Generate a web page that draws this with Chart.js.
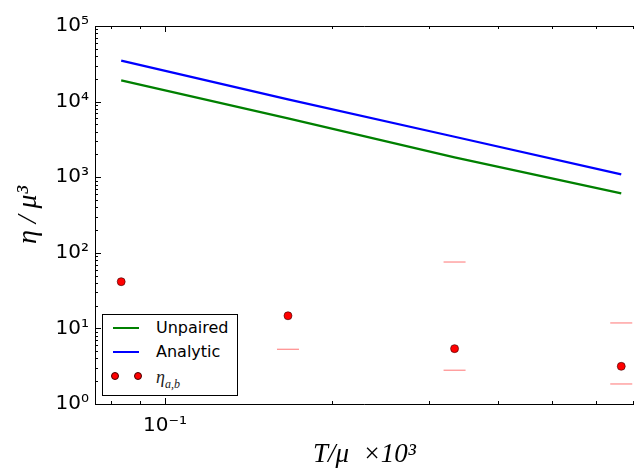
<!DOCTYPE html>
<html>
<head>
<meta charset="utf-8">
<script src="https://cdn.jsdelivr.net/npm/chart.js@4.4.0/dist/chart.umd.min.js"></script>
<style>
  html, body { margin: 0; padding: 0; background: #fff; overflow: hidden; }
  #wrap { position: relative; width: 634px; height: 473px; }
  #legend {
    position: absolute; left: 102px; top: 314px; width: 136px; height: 82px;
    box-sizing: border-box; border: 1px solid #000; background: #fff;
    font-family: "DejaVu Sans", sans-serif; font-size: 16px; color: #000;
  }
  .row { position: absolute; left: 0; height: 20px; width: 100%; }
  .swatch { position: absolute; left: 10px; width: 26px; height: 2px; top: 9px; }
  .dot { position: absolute; top: 5px; width: 8px; height: 8px; border-radius: 50%;
         background: #f00; border: 0.6px solid #400; box-sizing: border-box; }
  .lbl { position: absolute; left: 53px; top: 0; line-height: 20px; white-space: nowrap; }
  .math { font-family: "Liberation Serif", serif; font-style: italic; font-size: 18px; color: #222; }
  .math sub { font-size: 12px; }
</style>
</head>
<body>
<div id="wrap">
  <canvas id="c" width="634" height="473"></canvas>
  <div id="legend">
    <div class="row" style="top:3px"><div class="swatch" style="background:#008000"></div><span class="lbl">Unpaired</span></div>
    <div class="row" style="top:27px"><div class="swatch" style="background:#0000ff"></div><span class="lbl">Analytic</span></div>
    <div class="row" style="top:52px"><div class="dot" style="left:8px"></div><div class="dot" style="left:31px"></div><span class="lbl math">η<sub>a,b</sub></span></div>
  </div>
</div>
<script>
// temperatures (x) and the series
const temps = [0.0833, 0.1667, 0.3333, 0.6667];
const unpaired = [19100, 6010, 1830, 612];
const analytic = [34800, 10700, 3430, 1090];
const etaAB = [41.5, 14.7, 5.4, 3.15];
const etaUpper = [null, null, 75.5, 11.8];
const etaLower = [null, 5.3, 2.8, 1.84];

const yTicks = [1, 10, 100, 1000, 10000, 100000];
const xTicks = [0.1];

const sup = { '-': '⁻', '0': '⁰', '1': '¹', '2': '²', '3': '³', '4': '⁴', '5': '⁵', '6': '⁶', '7': '⁷', '8': '⁸', '9': '⁹' };
function pow10Label(v) {
  const e = String(Math.round(Math.log10(v)));
  return '10' + e.split('').map(ch => sup[ch]).join('');
}
function pts(ys) {
  return temps.map((t, i) => ({ x: t, y: ys[i] }));
}

// inside tick marks and the frame, matplotlib style
const frame = {
  id: 'frame',
  afterDatasetsDraw(chart) {
    const { ctx, chartArea: a, scales: { x, y } } = chart;
    ctx.save();
    ctx.strokeStyle = '#000';
    ctx.lineWidth = 1;
    ctx.beginPath();
    ctx.moveTo(a.right, a.top + 0.5); ctx.lineTo(a.left + 0.5, a.top + 0.5);
    ctx.lineTo(a.left + 0.5, a.bottom + 0.5); ctx.lineTo(a.right, a.bottom + 0.5);
    ctx.stroke();
    ctx.beginPath();
    for (let e = 0; e <= 5; e++) {
      for (let m = 1; m <= 9; m++) {
        const v = m * Math.pow(10, e);
        if (v > y.max) break;
        const py = Math.round(y.getPixelForValue(v)) + 0.5;
        const len = m === 1 ? 6 : 3;
        ctx.moveTo(a.left, py); ctx.lineTo(a.left + len, py);
      }
    }
    for (let e = -2; e <= 0; e++) {
      for (let m = 1; m <= 9; m++) {
        const v = m * Math.pow(10, e);
        if (v < x.min || v > x.max) continue;
        const px = Math.round(x.getPixelForValue(v)) + 0.5;
        const len = m === 1 ? 6 : 3;
        ctx.moveTo(px, a.bottom); ctx.lineTo(px, a.bottom - len);
        ctx.moveTo(px, a.top); ctx.lineTo(px, a.top + len);
      }
    }
    ctx.stroke();
    ctx.restore();
  }
};

const capStyle = {
  type: 'scatter', showLine: false, pointStyle: 'line', pointRadius: 11,
  borderColor: 'rgba(255,0,0,0.55)', borderWidth: 1
};

new Chart(document.getElementById('c'), {
  type: 'line',
  data: {
    datasets: [
      { label: 'Unpaired', data: pts(unpaired), borderColor: '#008000', borderWidth: 2.2, pointRadius: 0, fill: false },
      { label: 'Analytic', data: pts(analytic), borderColor: '#0000ff', borderWidth: 2.2, pointRadius: 0, fill: false },
      Object.assign({ label: 'upper', data: pts(etaUpper) }, capStyle),
      Object.assign({ label: 'lower', data: pts(etaLower) }, capStyle),
      { label: 'eta', type: 'scatter', data: pts(etaAB), backgroundColor: '#ff0000', borderColor: '#300', borderWidth: 0.6, pointRadius: 4 }
    ]
  },
  options: {
    responsive: false,
    animation: false,
    layout: { autoPadding: false, padding: { top: 26, right: 0, left: 0, bottom: 0 } },
    plugins: { legend: { display: false }, tooltip: { enabled: false } },
    scales: {
      x: {
        type: 'logarithmic', min: 0.0747, max: 0.703,
        grid: { display: false, drawTicks: false }, border: { display: false },
        afterBuildTicks: s => { s.ticks = xTicks.map(v => ({ value: v })); },
        afterFit: s => { s.height = 69; s.paddingLeft = 0; s.paddingRight = 0; },
        ticks: { callback: v => pow10Label(v), color: '#000', padding: 10, maxRotation: 0,
                 font: { family: 'DejaVu Sans', size: 20 } },
        title: { display: true, text: 'T/μ  ×10³', color: '#000', padding: { top: 0, bottom: 2 },
                 font: { family: 'Liberation Serif', style: 'italic', size: 27 } }
      },
      y: {
        type: 'logarithmic', min: 1, max: 100000,
        grid: { display: false, drawTicks: false }, border: { display: false },
        afterBuildTicks: s => { s.ticks = yTicks.map(v => ({ value: v })); },
        afterFit: s => { s.width = 95; },
        ticks: { callback: v => pow10Label(v), color: '#000', padding: 6,
                 font: { family: 'DejaVu Sans', size: 20 } },
        title: { display: true, text: 'η / μ³', color: '#000', padding: { top: 12, bottom: 0 },
                 font: { family: 'Liberation Serif', style: 'italic', size: 28 } }
      }
    }
  },
  plugins: [frame]
});
</script>
</body>
</html>
